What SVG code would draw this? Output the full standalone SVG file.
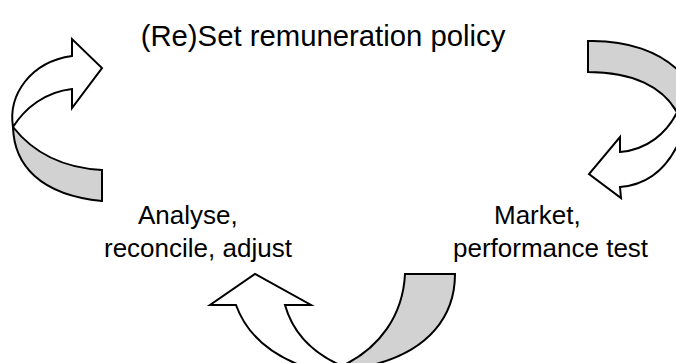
<svg xmlns="http://www.w3.org/2000/svg" width="676" height="363" viewBox="0 0 676 363">
<style>
.front{fill:#ffffff;stroke:#000;stroke-width:2;stroke-linejoin:miter}
.back{fill:#d2d2d2;stroke:#000;stroke-width:2;stroke-linejoin:miter}
.lbl{font-family:"Liberation Sans",Arial,sans-serif;font-size:26px;fill:#000}
.title{font-family:"Liberation Sans",Arial,sans-serif;font-size:29.3px;fill:#000;text-anchor:middle}
</style>
<rect width="676" height="363" fill="#fff"/>
<g id="connectors">
  <g id="arrow-left">
    <path class="back" d="M13,127 C35,155 65,168 102,170 L102,201 C40,195 14,165 13,127 Z"/>
    <path class="front" d="M13,127 C8,95 30,62 72,56 L72,39 L102,68 L72,108 L72,89 C45,92 25,108 13,127 Z"/>
  </g>
  <g id="arrow-right">
    <path class="back" d="M588,41 C628,40 660,52 680,72 L680,118 C665,85 630,72 588,72 Z"/>
    <path class="front" d="M680,106 C668,135 645,150 620,152 L620,137 L589,174 L621,198 L620,187 C648,185 668,167 680,140 Z"/>
  </g>
  <g id="arrow-bottom">
    <path class="back" d="M342,366 C380,348 403,315 405,274 L455,274 C455,315 430,352 368,366 Z"/>
    <path class="front" d="M236,305 L210,305 L255,274 L311,305 L285,305 C292,330 310,352 342,366 L302,366 C265,352 245,330 236,305 Z"/>
  </g>
</g>
<g id="node-reset">
  <text class="title" x="323" y="46">(Re)Set remuneration policy</text>
</g>
<g id="node-analyse">
  <text class="lbl" x="138" y="224">Analyse,</text>
  <text class="lbl" x="104" y="257">reconcile, adjust</text>
</g>
<g id="node-market">
  <text class="lbl" x="494" y="224">Market,</text>
  <text class="lbl" x="453" y="257">performance test</text>
</g>
</svg>
